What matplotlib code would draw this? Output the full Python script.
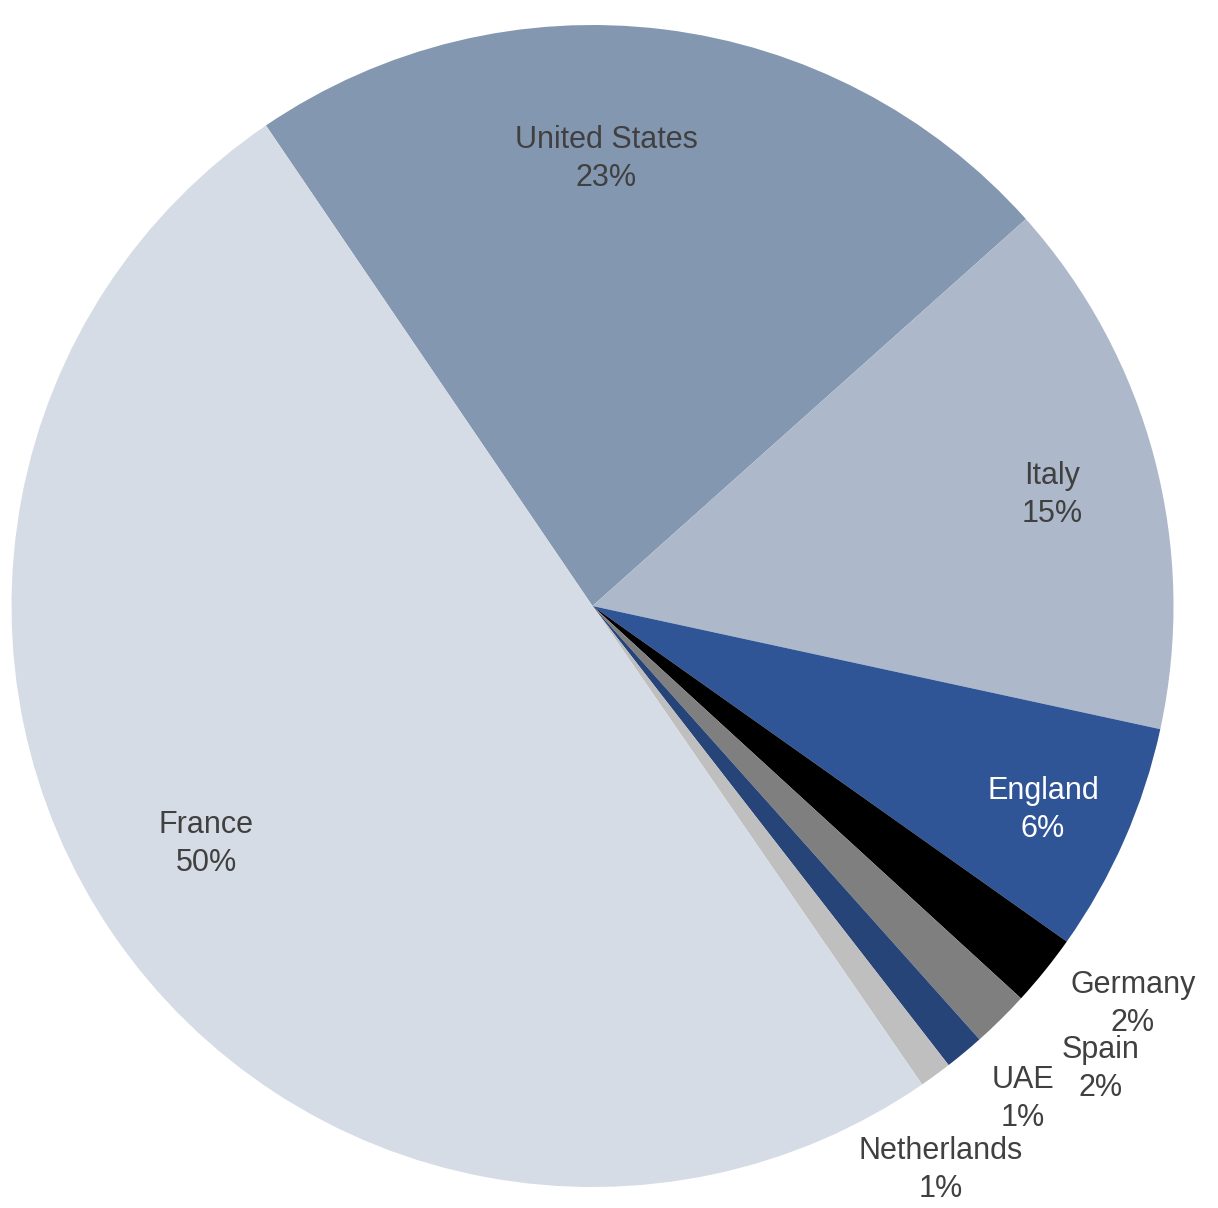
import matplotlib
matplotlib.use("Agg")
import matplotlib.pyplot as plt

plt.rcParams['font.family'] = ['Liberation Sans', 'DejaVu Sans']

countries = ["United States", "Italy", "England", "Germany", "Spain", "UAE", "Netherlands", "France"]
shares = [22.9, 15.0, 6.4, 2.0, 1.6, 1.1, 0.9, 50.1]
colors = ["#8497b0", "#adb9ca", "#2f5597", "#000000", "#7f7f7f", "#264478", "#bfbfbf", "#d6dce5"]

# label centres in pixels of the 1218x1208 image
label_px = [(606, 159), (1052, 495), (1043, 810), (1133, 1004),
            (1101, 1069), (1023, 1099), (941, 1170), (206, 844)]
label_colors = ["#404040", "#404040", "white", "#404040",
                "#404040", "#404040", "#404040", "#404040"]

W, H = 1218, 1208
cx, cy, R = 592.5, 606, 581

fig = plt.figure(figsize=(W / 100, H / 100), dpi=100)
ax = fig.add_axes([0, 0, 1, 1])
ax.pie(shares, colors=colors, startangle=124.2, counterclock=False,
       radius=1, wedgeprops=dict(linewidth=0))
ax.set_xlim(-cx / R, (W - cx) / R)
ax.set_ylim(-(H - cy) / R, cy / R)
ax.set_aspect('auto')
ax.axis('off')

total = sum(shares)
for name, val, (px, py), tc in zip(countries, shares, label_px, label_colors):
    pct = round(val / total * 100)
    ax.text((px - cx) / R, (cy - py) / R, f"{name}\n{pct}%", ha="center", va="center",
            fontsize=22, color=tc, linespacing=1.38)

fig.savefig("out.png", dpi=100)
